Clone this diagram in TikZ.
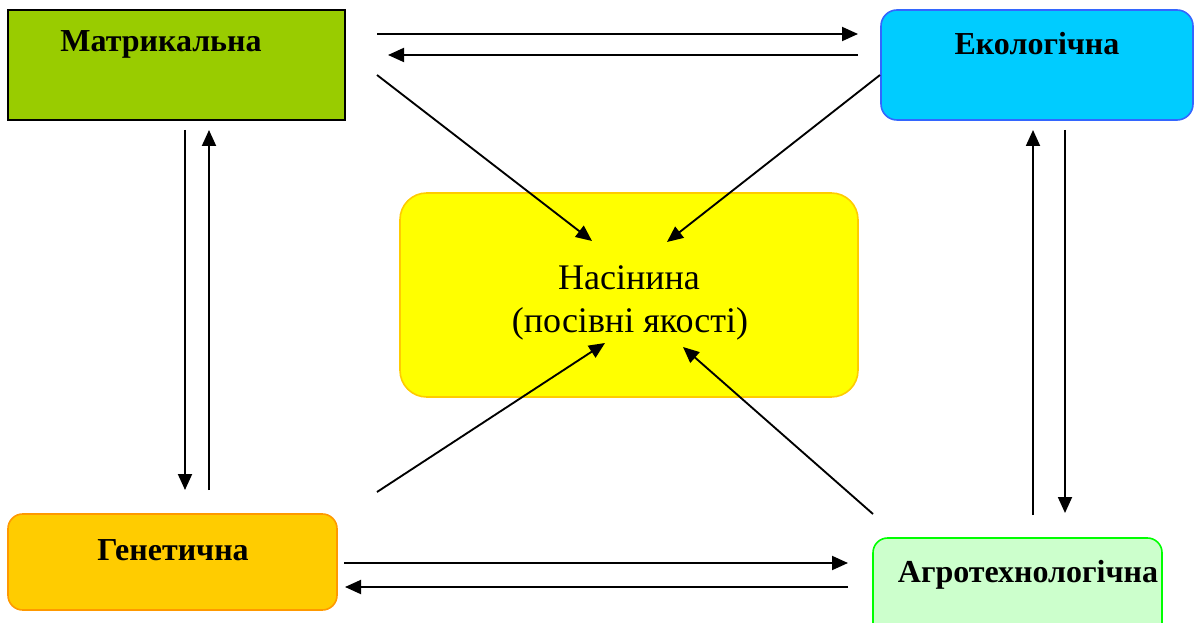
\documentclass[tikz,border=0pt]{standalone}
\usepackage{fontspec}
\setmainfont{Liberation Serif}
\usetikzlibrary{arrows.meta,fit}
\definecolor{mgreen}{HTML}{99CC00}
\definecolor{ecofill}{HTML}{00CCFF}
\definecolor{ecoline}{HTML}{3366FF}
\definecolor{genfill}{HTML}{FFCC00}
\definecolor{genline}{HTML}{FF9900}
\definecolor{agrofill}{HTML}{CCFFCC}
\definecolor{agroline}{HTML}{00FF00}
\definecolor{seedfill}{HTML}{FFFF00}
\definecolor{seedline}{HTML}{FFCC00}
\tikzset{
  boxshape/.style={inner sep=0pt, line width=1.2pt},
  lbl/.style={anchor=base, inner sep=0pt, font=\fontsize{24}{28}\selectfont\bfseries},
  ctext/.style={anchor=base, inner sep=0pt, font=\fontsize{27}{32}\selectfont},
  conn/.style={line width=1.4pt, -{Triangle[length=12pt,width=10.5pt]}}
}
\begin{document}
\begin{tikzpicture}[x=0.75pt,y=-0.75pt]
\useasboundingbox (0,0) rectangle (1195,623);
% boxes
\node[boxshape, fit={(8,10)(345,120)}, draw=black, fill=mgreen] (mat) {};
\node[boxshape, fit={(881,10)(1193,120)}, draw=ecoline, fill=ecofill, rounded corners=12pt] (eco) {};
\node[boxshape, fit={(8,514)(337,610)}, draw=genline, fill=genfill, rounded corners=11pt] (gen) {};
\node[boxshape, fit={(873,538)(1162,640)}, draw=agroline, fill=agrofill, rounded corners=11pt] (agro) {};
\node[boxshape, fit={(400,193)(858,397)}, draw=seedline, fill=seedfill, rounded corners=20pt] (seed) {};
% labels
\node[lbl] (matl) at (161,52) {Матрикальна};
\node[lbl] (ecol) at (1037,55) {Екологічна};
\node[lbl] (genl) at (173,560) {Генетична};
\node[lbl] (agrol) at (1028,582) {Агротехнологічна};
\node[ctext] (seedl1) at (629,290) {Насінина};
\node[ctext] (seedl2) at (630,333) {(посівні якості)};
% arrow end points
\coordinate (t1a) at (377,34);  \coordinate (t1b) at (858,34);
\coordinate (t2a) at (858,55);  \coordinate (t2b) at (388,55);
\coordinate (d1a) at (377,75);  \coordinate (d1b) at (592,241);
\coordinate (d2a) at (880,75);  \coordinate (d2b) at (667,242);
\coordinate (l1a) at (185,130); \coordinate (l1b) at (185,490);
\coordinate (l2a) at (209,490); \coordinate (l2b) at (209,130);
\coordinate (r1a) at (1033,515); \coordinate (r1b) at (1033,130);
\coordinate (r2a) at (1065,130); \coordinate (r2b) at (1065,513);
\coordinate (d3a) at (377,492); \coordinate (d3b) at (605,343);
\coordinate (d4a) at (873,514); \coordinate (d4b) at (683,347);
\coordinate (b1a) at (344,563); \coordinate (b1b) at (848,563);
\coordinate (b2a) at (848,587); \coordinate (b2b) at (345,587);
% connectors
\draw[conn] (t1a) -- (t1b);
\draw[conn] (t2a) -- (t2b);
\draw[conn] (d1a) -- (d1b);
\draw[conn] (d2a) -- (d2b);
\draw[conn] (l1a) -- (l1b);
\draw[conn] (l2a) -- (l2b);
\draw[conn] (r1a) -- (r1b);
\draw[conn] (r2a) -- (r2b);
\draw[conn] (d3a) -- (d3b);
\draw[conn] (d4a) -- (d4b);
\draw[conn] (b1a) -- (b1b);
\draw[conn] (b2a) -- (b2b);
\end{tikzpicture}
\end{document}
